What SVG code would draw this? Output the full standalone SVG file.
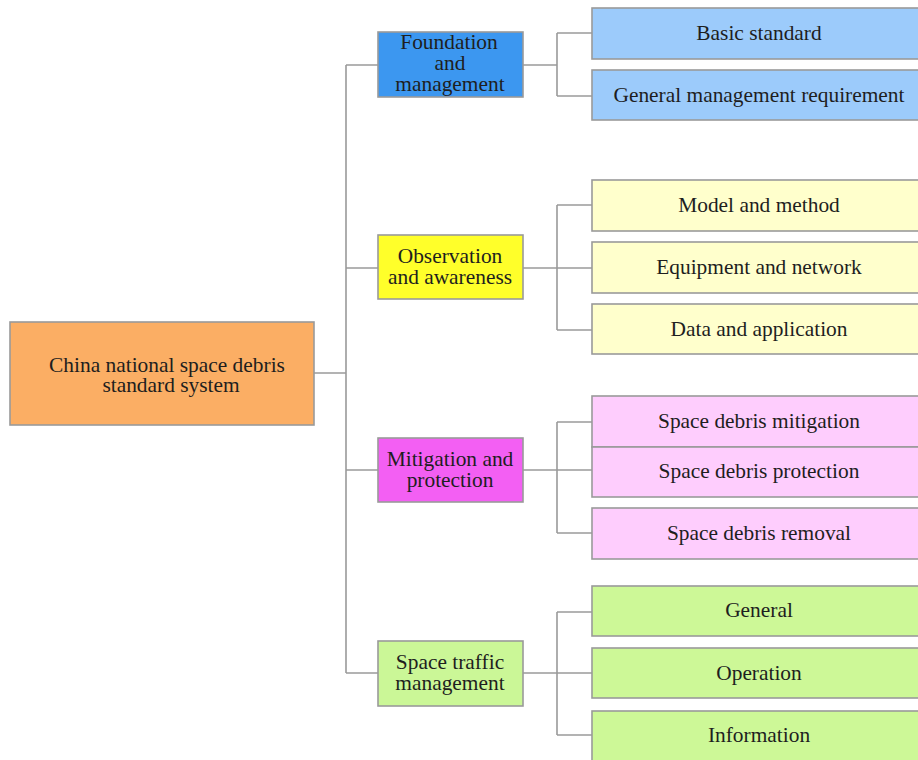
<svg xmlns="http://www.w3.org/2000/svg" width="918" height="760" viewBox="0 0 918 760">
<style>
.n rect{stroke:#9a9a9a;stroke-width:1.6}
text{font-family:"Liberation Serif","Times New Roman",serif;font-size:21.4px;fill:#1e1e1e;text-anchor:middle}
.c{fill:none;stroke:#9a9a9a;stroke-width:1.6}
.b1{fill:#3c97f0}.b2{fill:#9ccbfb}
.y1{fill:#ffff2a}.y2{fill:#ffffcc}
.m1{fill:#f35ff3}.m2{fill:#fecdfd}
.g1{fill:#cbf797}.g2{fill:#cdf897}
</style>
<rect width="918" height="760" style="fill:#ffffff;stroke:none"/>
<g id="connectors">
<path class="c" d="M314 373H346M346 65V673M346 65H378M346 268H378M346 470H378M346 673H378"/>
<path class="c" d="M523 65H557M557 33V96M557 33H592M557 96H592"/>
<path class="c" d="M523 268H557M557 205V330M557 205H592M557 268H592M557 330H592"/>
<path class="c" d="M523 470H557M557 422V533M557 422H592M557 470H592M557 533H592"/>
<path class="c" d="M523 673H557M557 612V735M557 612H592M557 673H592M557 735H592"/>
</g>
<g id="root" class="n"><rect x="10" y="322" width="304" height="103" fill="#fbae64"/><text x="167" y="372">China national space debris</text><text x="171" y="392">standard system</text></g>
<g id="foundation" class="n"><rect class="b1" x="378" y="32" width="145" height="65"/><text x="449" y="49">Foundation</text><text x="450" y="70">and</text><text x="450" y="91">management</text></g>
<g id="observation" class="n"><rect class="y1" x="378" y="235" width="145" height="64"/><text x="450" y="263">Observation</text><text x="450" y="284">and awareness</text></g>
<g id="mitigation" class="n"><rect class="m1" x="378" y="438" width="145" height="64"/><text x="450" y="466">Mitigation and</text><text x="450" y="487">protection</text></g>
<g id="traffic" class="n"><rect class="g1" x="378" y="641" width="145" height="65"/><text x="450" y="669">Space traffic</text><text x="450" y="690">management</text></g>
<g id="basic" class="n"><rect class="b2" x="592" y="8" width="334" height="51"/><text x="759" y="40">Basic standard</text></g>
<g id="general-mgmt" class="n"><rect class="b2" x="592" y="70" width="334" height="50"/><text x="759" y="102">General management requirement</text></g>
<g id="model" class="n"><rect class="y2" x="592" y="180" width="334" height="51"/><text x="759" y="212">Model and method</text></g>
<g id="equipment" class="n"><rect class="y2" x="592" y="242" width="334" height="51"/><text x="759" y="274">Equipment and network</text></g>
<g id="data" class="n"><rect class="y2" x="592" y="304" width="334" height="50"/><text x="759" y="336">Data and application</text></g>
<g id="sd-mitigation" class="n"><rect class="m2" x="592" y="396" width="334" height="51"/><text x="759" y="428">Space debris mitigation</text></g>
<g id="sd-protection" class="n"><rect class="m2" x="592" y="447" width="334" height="50"/><text x="759" y="478">Space debris protection</text></g>
<g id="sd-removal" class="n"><rect class="m2" x="592" y="508" width="334" height="51"/><text x="759" y="540">Space debris removal</text></g>
<g id="general" class="n"><rect class="g2" x="592" y="586" width="334" height="50"/><text x="759" y="617">General</text></g>
<g id="operation" class="n"><rect class="g2" x="592" y="648" width="334" height="50"/><text x="759" y="680">Operation</text></g>
<g id="information" class="n"><rect class="g2" x="592" y="711" width="334" height="60"/><text x="759" y="742">Information</text></g>
</svg>
